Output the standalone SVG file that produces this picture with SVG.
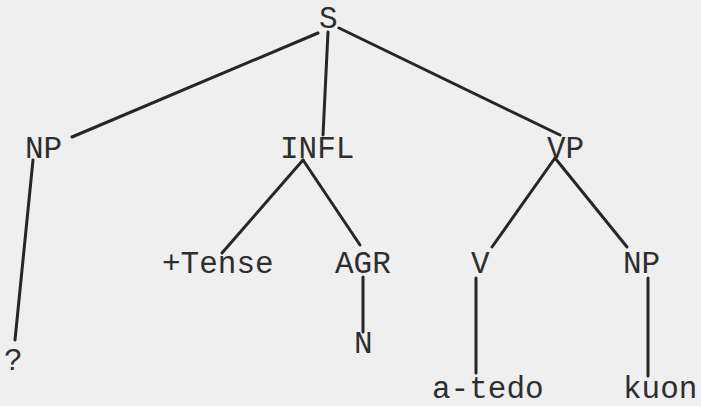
<svg xmlns="http://www.w3.org/2000/svg" width="701" height="406" viewBox="0 0 701 406">
<style>
.lbl{font-family:"Liberation Mono","Courier New",monospace;font-size:31px;fill:#2e2e2e;}
.edge{stroke:#262626;stroke-width:3;stroke-linecap:round;fill:none;}
</style>
<rect x="0" y="0" width="701" height="406" fill="#efefef"/>
<g id="connectors">
<line class="edge" x1="318" y1="33" x2="72" y2="137"/>
<line class="edge" x1="328" y1="32" x2="323" y2="135"/>
<line class="edge" x1="339" y1="28" x2="560" y2="135"/>
<line class="edge" x1="33" y1="160" x2="15" y2="340"/>
<line class="edge" x1="303" y1="160" x2="222" y2="253"/>
<line class="edge" x1="303" y1="160" x2="360" y2="245"/>
<line class="edge" x1="555" y1="158" x2="492" y2="247"/>
<line class="edge" x1="555" y1="158" x2="627" y2="247"/>
<line class="edge" x1="363" y1="277" x2="363" y2="332"/>
<line class="edge" x1="476" y1="278" x2="476" y2="373"/>
<line class="edge" x1="648" y1="278" x2="648" y2="376"/>
</g>
<g id="S"><text class="lbl" x="319" y="28">S</text></g>
<g id="NP1"><text class="lbl" x="25" y="158">NP</text></g>
<g id="INFL"><text class="lbl" x="280" y="158">INFL</text></g>
<g id="VP"><text class="lbl" x="547" y="158">VP</text></g>
<g id="Tense"><text class="lbl" x="162" y="273">+Tense</text></g>
<g id="AGR"><text class="lbl" x="335" y="273">AGR</text></g>
<g id="V"><text class="lbl" x="471" y="273">V</text></g>
<g id="NP2"><text class="lbl" x="623" y="273">NP</text></g>
<g id="N"><text class="lbl" x="354" y="353">N</text></g>
<g id="Q"><text class="lbl" x="4" y="370">?</text></g>
<g id="atedo"><text class="lbl" x="432" y="398">a-tedo</text></g>
<g id="kuon"><text class="lbl" x="623" y="398">kuon</text></g>
</svg>
